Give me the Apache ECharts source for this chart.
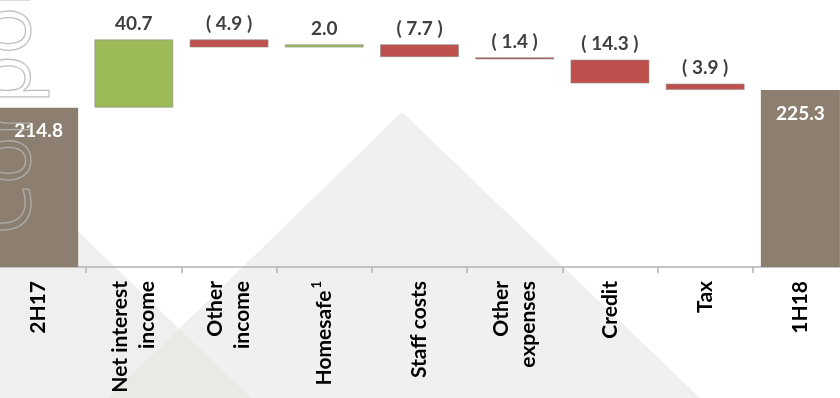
<!DOCTYPE html>
<html>
<head>
<meta charset="utf-8">
<script src="https://cdn.jsdelivr.net/npm/echarts@6/dist/echarts.min.js"></script>
<style>
  html, body { margin: 0; padding: 0; background: #ffffff; overflow: hidden; }
  #wrap { position: relative; width: 840px; height: 398px; overflow: hidden; }
  /* plot is slightly wider than the page so the end bars bleed off both edges */
  #chart { position: absolute; left: -9px; top: 0; width: 857px; height: 398px; }
</style>
</head>
<body>
<div id="wrap"><div id="chart"></div></div>
<script>
// Profit bridge 2H17 -> 1H18
const categories = ['2H17', 'Net interest\nincome', 'Other\nincome', 'Homesafe', 'Staff costs', 'Other\nexpenses', 'Credit', 'Tax', '1H18'];
const openingValue = 214.8;
const closingValue = 225.3;
// movements between the two totals, in category order
const movements = [40.7, -4.9, 2.0, -7.7, -1.4, -14.3, -3.9];

// Build stacked series: an invisible base plus the visible step
const baseData = ['-'];
const totalData = [openingValue];
const upData = ['-'];
const downData = ['-'];
let running = openingValue;
movements.forEach(function (m) {
  const next = running + m;
  baseData.push(+Math.min(running, next).toFixed(1));
  totalData.push('-');
  if (m >= 0) { upData.push(m); downData.push('-'); }
  else { upData.push('-'); downData.push(-m); }
  running = next;
});
baseData.push('-');
totalData.push(closingValue);
upData.push('-');
downData.push('-');

const labelFont = 'Lato, "Open Sans", sans-serif';
const ox = 9; // page-to-canvas horizontal offset for the backdrop shapes
const chart = echarts.init(document.getElementById('chart'), null, { renderer: 'canvas' });

chart.setOption({
  animation: false,
  backgroundColor: '#ffffff',
  graphic: [
    { type: 'polygon', z: -10, silent: true,
      shape: { points: [[35 + ox, 190], [251 + ox, 398], [-200 + ox, 398]] },
      style: { fill: '#efefef' } },
    { type: 'polygon', z: -10, silent: true,
      shape: { points: [[402 + ox, 112], [700 + ox, 398], [108 + ox, 398]] },
      style: { fill: '#f0f0f0' } },
    { type: 'polygon', z: -9, silent: true,
      shape: { points: [[179.6 + ox, 328.9], [251 + ox, 398], [108 + ox, 398]] },
      style: { fill: '#e9e9e5' } },
    // hollow vertical wordmark running up the left edge, mostly off-page
    { type: 'text', z: 100, silent: true,
      x: 7 + ox, y: 235, rotation: Math.PI / 2,
      style: {
        text: 'Corporate', fill: 'none', stroke: '#b5b5b5', lineWidth: 1.3, opacity: 0.85,
        font: '400 80px "Open Sans", sans-serif', textAlign: 'left', textVerticalAlign: 'middle'
      } }
  ],
  grid: { left: 0, right: 0, top: 15, bottom: 131, containLabel: false },
  xAxis: {
    type: 'category',
    data: categories,
    axisLine: { lineStyle: { color: '#b3b3b3', width: 1.5 } },
    axisTick: { show: true, length: 6, lineStyle: { color: '#b3b3b3', width: 1.5 } },
    axisLabel: {
      interval: 0,
      rotate: 90,
      margin: 14,
      color: '#000000',
      fontFamily: labelFont,
      fontWeight: 'bold',
      fontSize: 21,
      lineHeight: 27,
      formatter: function (v) {
        return v === 'Homesafe' ? '{a|Homesafe}{s|1}' : v;
      },
      rich: {
        a: { fontFamily: labelFont, fontWeight: 'bold', fontSize: 21, color: '#000000' },
        s: { fontFamily: labelFont, fontWeight: 'bold', fontSize: 13, color: '#000000', verticalAlign: 'top', padding: [0, 0, 12, 2] }
      }
    },
    splitLine: { show: false }
  },
  yAxis: {
    type: 'value',
    min: 120,
    max: 270,
    show: false,
    splitLine: { show: false }
  },
  series: [
    {
      name: 'base', type: 'bar', stack: 'bridge', barWidth: '83%',
      itemStyle: { color: 'rgba(0,0,0,0)' },
      emphasis: { disabled: true },
      data: baseData
    },
    {
      name: 'total', type: 'bar', stack: 'bridge', barWidth: '83%',
      itemStyle: { color: '#8c7f6f' },
      label: {
        show: true, position: 'insideTop', distance: 14,
        color: '#ffffff', fontFamily: labelFont, fontWeight: 'bold', fontSize: 19,
        formatter: function (p) { return p.value.toFixed(1); }
      },
      data: totalData
    },
    {
      name: 'increase', type: 'bar', stack: 'bridge', barWidth: '83%',
      itemStyle: { color: '#9bbb59', borderColor: 'rgba(140,140,140,0.6)', borderWidth: 1 },
      label: {
        show: true, position: 'top', distance: 6,
        color: '#404040', fontFamily: labelFont, fontWeight: 'bold', fontSize: 19,
        formatter: function (p) { return p.value.toFixed(1); }
      },
      data: upData
    },
    {
      name: 'decrease', type: 'bar', stack: 'bridge', barWidth: '83%',
      itemStyle: { color: '#c0504d', borderColor: 'rgba(140,140,140,0.6)', borderWidth: 1 },
      label: {
        show: true, position: 'top', distance: 6,
        color: '#404040', fontFamily: labelFont, fontWeight: 'bold', fontSize: 19,
        formatter: function (p) { return '( ' + p.value.toFixed(1) + ' )'; }
      },
      data: downData
    }
  ]
});
</script>
</body>
</html>
